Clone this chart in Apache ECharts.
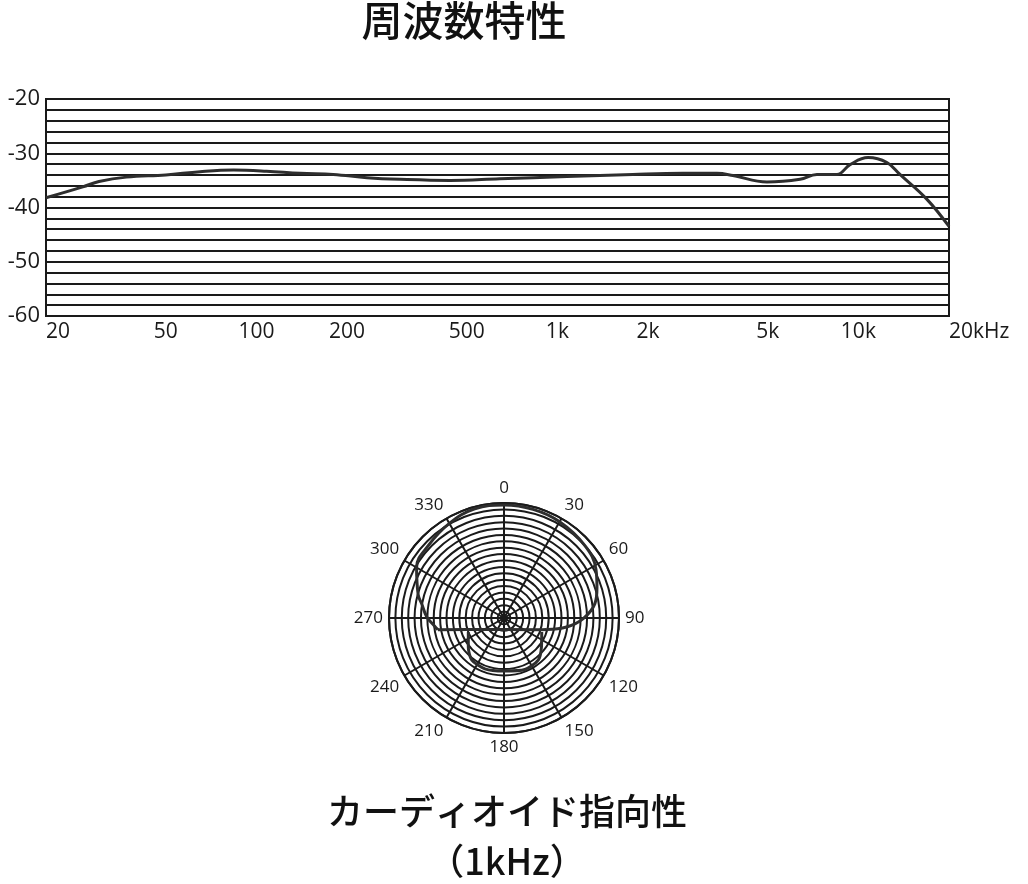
<!DOCTYPE html>
<html>
<head>
<meta charset="utf-8">
<title>周波数特性 / カーディオイド指向性</title>
<script src="https://cdn.jsdelivr.net/npm/echarts@6.0.0/dist/echarts.min.js"></script>
<style>
    html, body { margin: 0; padding: 0; background: #fff; }
    #chart { width: 1028px; height: 884px; }
</style>
</head>
<body>
<div id="chart"></div>
<script>
    // 周波数特性 : frequency (Hz) / level (dB)
    var freqHz = [20, 26.5, 30, 37, 50, 65, 84, 108, 140, 180, 233, 300, 440, 644,
        1076, 1780, 2610, 3390, 3830, 4970, 6400, 7280, 8490, 9380, 10770, 12440, 13740, 16900, 20000];
    var levelDb = [-38.2, -36.2, -35.2, -34.4, -34.0, -33.4, -33.1, -33.3, -33.7, -33.9, -34.5, -34.8, -35.0, -34.7,
        -34.3, -33.9, -33.7, -33.7, -34.1, -35.3, -34.8, -33.9, -33.9, -32.1, -30.8, -31.7, -33.9, -38.5, -43.5];
    var freqTickHz = [20, 50, 100, 200, 500, 1000, 2000, 5000, 10000, 20000];
    var freqTickText = ['20', '50', '100', '200', '500', '1k', '2k', '5k', '10k', '20kHz'];
    var levelTicks = [-60, -50, -40, -30, -20];

    // カーディオイド指向性 (1kHz) : angle (deg) / radius (rings)
    var lobeAngle = [105.2, 98.2, 90.4, 81, 72, 62, 48, 30, 15, 0, 345, 330, 314, 300, 285, 280, 271, 263, 260];
    var lobeRing = [6.9, 9.9, 12.4, 14.4, 15.3, 16.3, 17.0, 17.4, 17.6, 17.7, 17.7, 17.1, 16.4, 15.8, 13.9, 13.1, 12.1, 10.9, 10.5];
    var baseAngle = [260, 252.1, 180, 107.1, 105.2];
    var baseRing = [10.5, 5.9, 1.8, 6.2, 6.9];
    var rearAngle = [248.6, 230.9, 217.4, 200.6, 180, 157.9, 141, 127.6, 110.4];
    var rearRing = [6.0, 7.2, 8.3, 8.5, 8.3, 8.7, 8.5, 7.4, 6.3];
    var angleTicks = [0, 30, 60, 90, 120, 150, 180, 210, 240, 270, 300, 330];
    var ringCount = 18;

    var ink = '#1a1a1a';
    var curve = '#2e2e2e';

    function pairs(rings, angles) {
        return rings.map(function (r, i) { return [r, angles[i]]; });
    }

    var freqLog = freqTickHz.map(function (f) { return Math.log10(f); });

    var chart = echarts.init(document.getElementById('chart'));
    chart.setOption({
        backgroundColor: '#fff',
        animation: false,
        title: [{
            text: '周波数特性',
            left: 464,
            top: 0,
            padding: 0,
            textAlign: 'center',
            textStyle: { fontFamily: 'Noto Sans CJK JP', fontSize: 41, fontWeight: 500, color: '#111' }
        }, {
            text: 'カーディオイド指向性\n（1kHz）',
            left: 507,
            top: 786,
            padding: 0,
            textAlign: 'center',
            textStyle: { fontFamily: 'Noto Sans CJK JP', fontSize: 36, fontWeight: 500, color: '#111', lineHeight: 50 }
        }],
        grid: {
            left: 46, right: 79, top: 99, bottom: 568,
            show: true, borderColor: ink, borderWidth: 2
        },
        xAxis: {
            type: 'value',
            min: Math.log10(20),
            max: Math.log10(20000),
            axisLine: { show: true, lineStyle: { color: ink, width: 2 } },
            axisTick: { show: false },
            splitLine: { show: false },
            axisLabel: {
                customValues: freqLog,
                margin: 6,
                alignMinLabel: 'left',
                alignMaxLabel: 'left',
                fontFamily: 'Open Sans',
                fontSize: 21,
                color: ink,
                formatter: function (v) {
                    for (var i = 0; i < freqLog.length; i++) {
                        if (Math.abs(freqLog[i] - v) < 1e-6) return freqTickText[i];
                    }
                    return '';
                }
            }
        },
        yAxis: {
            type: 'value',
            min: -60,
            max: -20,
            interval: 2,
            axisLine: { show: true, lineStyle: { color: ink, width: 2 } },
            axisTick: { show: false },
            splitLine: { show: true, lineStyle: { color: ink, width: 2 } },
            axisLabel: {
                customValues: levelTicks,
                margin: 6,
                fontFamily: 'Open Sans',
                fontSize: 22,
                color: ink
            }
        },
        polar: { center: [504, 618], radius: 115 },
        angleAxis: {
            type: 'value',
            min: 0,
            max: 360,
            interval: 30,
            startAngle: 90,
            clockwise: true,
            axisLine: { show: true, lineStyle: { color: ink, width: 2 } },
            axisTick: { show: false },
            splitLine: { show: true, lineStyle: { color: ink, width: 2 } },
            axisLabel: {
                margin: 6,
                fontFamily: 'Open Sans',
                fontSize: 17,
                color: ink,
                formatter: function (v) { return angleTicks.indexOf(v) >= 0 ? String(v) : ''; }
            }
        },
        radiusAxis: {
            type: 'value',
            min: 0,
            max: ringCount,
            interval: 1,
            axisLine: { show: false },
            axisTick: { show: false },
            axisLabel: { show: false },
            splitLine: { show: true, lineStyle: { color: ink, width: 2 } }
        },
        series: [{
            type: 'line',
            name: 'level',
            data: freqHz.map(function (f, i) { return [Math.log10(f), levelDb[i]]; }),
            smooth: 0.4,
            symbol: 'none',
            lineStyle: { color: curve, width: 3 }
        }, {
            type: 'line',
            coordinateSystem: 'polar',
            data: pairs(lobeRing, lobeAngle),
            smooth: 0.4,
            symbol: 'none',
            lineStyle: { color: curve, width: 3 }
        }, {
            type: 'line',
            coordinateSystem: 'polar',
            data: pairs(baseRing, baseAngle),
            smooth: false,
            symbol: 'none',
            lineStyle: { color: curve, width: 3 }
        }, {
            type: 'line',
            coordinateSystem: 'polar',
            data: pairs(rearRing, rearAngle),
            smooth: 0.25,
            symbol: 'none',
            lineStyle: { color: curve, width: 3 }
        }]
    });
</script>
</body>
</html>
